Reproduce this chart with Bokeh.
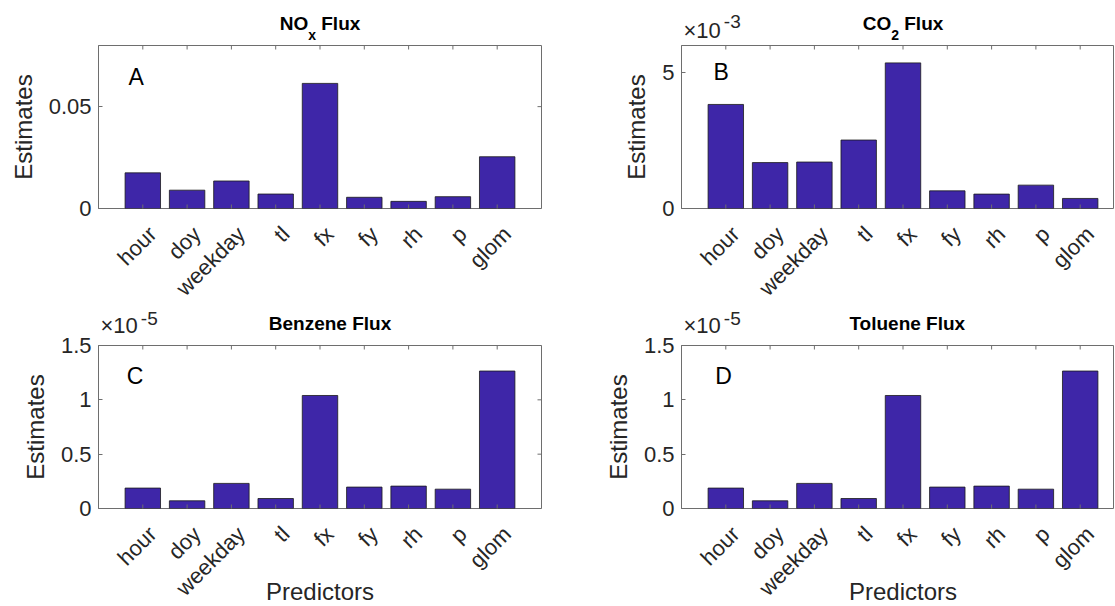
import math
from bokeh.plotting import figure
from bokeh.models import Range1d, FixedTicker, Label, ColumnDataSource
from bokeh.core.properties import value
from bokeh.layouts import column, row
from bokeh.embed import file_html
from bokeh.resources import INLINE

# ---------------- data ----------------
predictors = ["hour", "doy", "weekday", "tl", "fx", "fy", "rh", "p", "glom"]

nox_flux = [0.0175, 0.0090, 0.0135, 0.0071, 0.0614, 0.0055, 0.0035, 0.0058, 0.0254]
co2_flux = [3.83, 1.69, 1.71, 2.52, 5.36, 0.65, 0.53, 0.86, 0.37]              # x 1e-3
benzene_flux = [0.188, 0.071, 0.231, 0.092, 1.04, 0.197, 0.206, 0.178, 1.265]  # x 1e-5
toluene_flux = [0.188, 0.071, 0.231, 0.092, 1.04, 0.197, 0.206, 0.178, 1.265]  # x 1e-5

nox_ticks = [0, 0.05]
nox_tick_labels = ["0", "0.05"]
co2_ticks = [0, 5]
co2_tick_labels = ["0", "5"]
voc_ticks = [0, 0.5, 1, 1.5]
voc_tick_labels = ["0", "0.5", "1", "1.5"]

# ---------------- styling / geometry ----------------
FONT = "Liberation Sans"
BAR_FILL = "#3E26A8"
BAR_LINE = "#1a1a1a"
AX_COLOR = "#6e6e6e"
TXT = "#262626"
FRAME_W = 443
FRAME_W_CUT = 433
FRAME_H = 163
PX_UNIT = FRAME_W / 10.0
MID = 0.44   # distance (in em) from a text's vertical middle to its baseline

BOLD_W = {"N": 722, "O": 778, "x": 556, " ": 278, "F": 611, "l": 278, "u": 611,
          "C": 722, "2": 556, "B": 722, "e": 556, "n": 611, "z": 500, "T": 611, "o": 611}
REG_W = {"×": 584, "1": 556, "0": 556}


def tw(s, size, table):
    return sum(table.get(c, 556) for c in s) / 1000.0 * size


def bare(fw, height, left, right, xr, yr):
    f = figure(frame_width=fw, frame_height=height, x_range=xr, y_range=yr,
               output_backend="svg", toolbar_location=None,
               x_axis_location=None, y_axis_location=None)
    f.min_border_left = left
    f.min_border_right = right
    f.min_border_top = f.min_border_bottom = 0
    f.outline_line_color = None
    f.grid.visible = False
    f.background_fill_color = "white"
    f.border_fill_color = "white"
    return f


def make_panel(values, ymax, ticks, tick_labels, title_parts, title_shift, exponent,
               exp_base, letter, letter_pos, cut, head_h, top_b, bot_b, foot_h,
               bottom_row):
    fw = FRAME_W_CUT if cut else FRAME_W
    left = 100 if cut else 98
    right = 0 if cut else 40
    xs = list(range(1, len(predictors) + 1))

    # ---------- main panel ----------
    xr = Range1d(0, fw / PX_UNIT)
    yr = Range1d(0, ymax)
    p = figure(frame_width=fw, frame_height=FRAME_H, x_range=xr, y_range=yr,
               output_backend="svg", toolbar_location=None, x_axis_location=None)
    p.min_border_left = left
    p.min_border_right = right
    p.min_border_top = top_b
    p.min_border_bottom = bot_b
    p.outline_line_color = AX_COLOR
    p.outline_line_width = 1
    p.grid.visible = False
    p.background_fill_color = "white"
    p.border_fill_color = "white"

    src = ColumnDataSource(dict(x=xs, top=values))
    p.vbar(x="x", top="top", width=0.8, source=src, fill_color=BAR_FILL,
           line_color=BAR_LINE, line_width=0.8)

    yax = p.yaxis[0]
    yax.ticker = FixedTicker(ticks=ticks)
    yax.major_label_overrides = {t: l for t, l in zip(ticks, tick_labels)}
    yax.axis_line_color = AX_COLOR
    yax.major_tick_line_color = AX_COLOR
    yax.minor_tick_line_color = None
    yax.major_tick_in = 4
    yax.major_tick_out = 0
    yax.major_label_text_font = FONT
    yax.major_label_text_color = TXT
    yax.major_label_text_font_size = "22px"
    yax.major_label_standoff = 7
    yax.axis_label = "Estimates"
    yax.axis_label_text_font = FONT
    yax.axis_label_text_font_style = "normal"
    yax.axis_label_text_color = TXT
    yax.axis_label_text_font_size = "24px"
    yax.axis_label_standoff = 9

    # inward tick marks on the bottom, top and right edges (box on)
    p.scatter(x=xs, y=0, marker="dash", size=8, angle=math.pi / 2,
              line_color=AX_COLOR, line_width=1)
    p.scatter(x=xs, y=ymax, marker="dash", size=8, angle=math.pi / 2,
              line_color=AX_COLOR, line_width=1)
    if not cut:
        p.scatter(x=fw / PX_UNIT, y=ticks, marker="dash", size=8, angle=0,
                  line_color=AX_COLOR, line_width=1)

    p.add_layout(Label(x=letter_pos[0], y=ymax * letter_pos[1], text=letter,
                       text_font=FONT, text_font_size="23px", text_color="black",
                       text_align="left", text_baseline="middle"))

    # ---------- header (title + exponent); y in px above the panel's top ----------
    hy = Range1d(top_b, head_h + top_b)
    h = bare(fw, head_h, left, right, xr, hy)
    total = sum(tw(t, s, BOLD_W) + gap for t, s, _, gap in title_parts)
    xpx = 5 * PX_UNIT + title_shift - total / 2.0
    for t, s, base, gap in title_parts:
        xpx += gap
        h.add_layout(Label(x=xpx / PX_UNIT, y=base + MID * s, text=t,
                           text_font=FONT, text_font_size=f"{s}px",
                           text_font_style="bold", text_color="black",
                           text_align="left", text_baseline="middle"))
        xpx += tw(t, s, BOLD_W)
    if exponent is not None:
        x0 = 2.0
        h.add_layout(Label(x=x0 / PX_UNIT, y=exp_base[0] + MID * 22, text="×10",
                           text_font=FONT, text_font_size="22px", text_color=TXT,
                           text_align="left", text_baseline="middle"))
        x1 = x0 + tw("×10", 22, REG_W) + 3.0
        h.add_layout(Label(x=x1 / PX_UNIT, y=exp_base[1] + MID * 19, text=exponent,
                           text_font=FONT, text_font_size="19px", text_color=TXT,
                           text_align="left", text_baseline="middle"))

    # ---------- footer (rotated category labels + x label); y in px below ----------
    fy = Range1d(-(foot_h + bot_b), -bot_b)
    f = bare(fw, foot_h, left, right, xr, fy)
    f.text(x=xs, y=0, text=predictors, angle=math.pi / 4, text_align="right",
           text_baseline="top", x_offset=1, y_offset=13, text_font=value(FONT),
           text_font_size="22px", text_color=TXT)
    if bottom_row:
        f.add_layout(Label(x=5, y=-(94 - MID * 24), text="Predictors",
                           text_font=FONT, text_font_size="24px", text_color=TXT,
                           text_align="center", text_baseline="middle"))
    return column(h, p, f)


# top row: header 44 + panel (1 + 163 + 12) + footer 88  = 308
pa = make_panel(nox_flux, 0.08, nox_ticks, nox_tick_labels,
                [("NO", 19, 13.6, 0), ("x", 14, 4.6, 0), ("Flux", 19, 13.6, 5.3)], 0,
                None, None, "A", (0.68, 0.804), False, 44, 1, 12, 88, False)
pb = make_panel(co2_flux, 6.0, co2_ticks, co2_tick_labels,
                [("CO", 19, 13.6, 0), ("2", 14, 4.6, 0), ("Flux", 19, 13.6, 5.3)], 0,
                "-3", (5.5, 16), "B", (0.72, 0.836), True, 44, 1, 12, 88, False)
# bottom row: header 28 + panel (9 + 163 + 12) + footer 85 = 297
pc = make_panel(benzene_flux, 1.5, voc_ticks, voc_tick_labels,
                [("Benzene Flux", 19, 13.6, 0)], 10, "-5", (10, 18.5), "C",
                (0.64, 0.81), False, 28, 9, 12, 85, True)
pd = make_panel(toluene_flux, 1.5, voc_ticks, voc_tick_labels,
                [("Toluene Flux", 19, 13.6, 0)], 5, "-5", (10, 18.5), "D",
                (0.76, 0.81), True, 28, 9, 12, 85, True)

layout = column(row(pa, pb), row(pc, pd))
open("out.html", "w").write(file_html(layout, INLINE))
